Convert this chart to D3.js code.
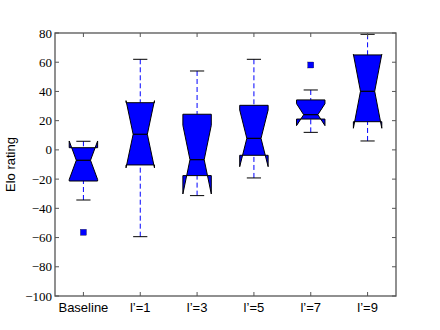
<!DOCTYPE html>
<html>
<head>
<meta charset="utf-8">
<title>Elo rating boxplot</title>
<script src="https://cdn.jsdelivr.net/npm/d3@7"></script>
<style>
  body { margin: 0; background: #fff; }
  svg { display: block; }
</style>
</head>
<body>
<svg id="chart"></svg>
<script>
// categories and box statistics
var categories = ["Baseline", "l\u2019=1", "l\u2019=3", "l\u2019=5", "l\u2019=7", "l\u2019=9"];
var whiskerLo = [-34.3, -59.4, -31.3, -19.2, 12.0, 6.1];
var q1 = [-21.3, -10.3, -17.6, -3.7, 21.1, 19.3];
var medians = [-7.1, 10.7, -6.7, 7.9, 24.1, 40.1];
var q3 = [1.5, 32.3, 24.4, 30.5, 34.2, 65.0];
var whiskerHi = [5.9, 62.0, 54.0, 62.0, 41.0, 79.1];
var notchHalf = [13.2, 23.0, 23.5, 19.4, 7.5, 25.3];
var outliers = [[-56.4], [], [], [], [58.1], []];
var yTicks = [-100, -80, -60, -40, -20, 0, 20, 40, 60, 80];

var w = 440, h = 330;
// plot area (don't use "top" - it clashes with window.top)
var padL = 55, padR = 396, padT = 33, padB = 296;

var svg = d3.select("#chart").attr("width", w).attr("height", h);

var x = d3.scaleLinear().domain([0.5, categories.length + 0.5]).range([padL, padR]);
var y = d3.scaleLinear().domain([-100, 80]).range([padB, padT]);

var boxW = x(1.25) - x(1);      // half of box width (width 0.5)
var capW = x(1.125) - x(1);     // half of cap / notch width

var stats = categories.map(function(c, i) {
    return {
        pos: i + 1, lo: whiskerLo[i], q1: q1[i], med: medians[i], q3: q3[i],
        hi: whiskerHi[i], nlo: medians[i] - notchHalf[i], nhi: medians[i] + notchHalf[i],
        out: outliers[i]
    };
});

var g = svg.append("g");

// whiskers, dashed blue
g.selectAll(".wlo").data(stats).enter().append("line")
    .attr("x1", function(d) { return x(d.pos); }).attr("x2", function(d) { return x(d.pos); })
    .attr("y1", function(d) { return y(d.lo); }).attr("y2", function(d) { return y(d.q1); })
    .attr("stroke", "#0000ff").attr("stroke-dasharray", "5,3").attr("stroke-width", 1);
g.selectAll(".whi").data(stats).enter().append("line")
    .attr("x1", function(d) { return x(d.pos); }).attr("x2", function(d) { return x(d.pos); })
    .attr("y1", function(d) { return y(d.hi); }).attr("y2", function(d) { return y(d.q3); })
    .attr("stroke", "#0000ff").attr("stroke-dasharray", "5,3").attr("stroke-width", 1);

// caps
["lo", "hi"].forEach(function(k) {
    g.selectAll(".cap" + k).data(stats).enter().append("line")
        .attr("x1", function(d) { return x(d.pos) - capW; })
        .attr("x2", function(d) { return x(d.pos) + capW; })
        .attr("y1", function(d) { return y(d[k]); }).attr("y2", function(d) { return y(d[k]); })
        .attr("stroke", "#000").attr("stroke-width", 1);
});

// notched boxes
g.selectAll(".box").data(stats).enter().append("path")
    .attr("d", function(d) {
        var c = x(d.pos);
        var pts = [
            [c - boxW, y(d.q1)], [c + boxW, y(d.q1)], [c + boxW, y(d.nlo)],
            [c + capW, y(d.med)], [c + boxW, y(d.nhi)], [c + boxW, y(d.q3)],
            [c - boxW, y(d.q3)], [c - boxW, y(d.nhi)], [c - capW, y(d.med)],
            [c - boxW, y(d.nlo)], [c - boxW, y(d.q1)]
        ];
        return d3.line()(pts) + "Z";
    })
    .attr("fill", "#0000ff").attr("stroke", "#000").attr("stroke-width", 1)
    .attr("stroke-linejoin", "miter");

// medians
g.selectAll(".med").data(stats).enter().append("line")
    .attr("x1", function(d) { return x(d.pos) - capW; })
    .attr("x2", function(d) { return x(d.pos) + capW; })
    .attr("y1", function(d) { return y(d.med); }).attr("y2", function(d) { return y(d.med); })
    .attr("stroke", "#000").attr("stroke-width", 1.2);

// fliers
var fl = [];
stats.forEach(function(d) { d.out.forEach(function(v) { fl.push({ pos: d.pos, v: v }); }); });
g.selectAll(".fl").data(fl).enter().append("rect")
    .attr("x", function(d) { return x(d.pos) - 3; })
    .attr("y", function(d) { return y(d.v) - 3; })
    .attr("width", 6).attr("height", 6)
    .attr("fill", "#0000ff").attr("stroke", "#000").attr("stroke-width", 0.3);

// frame
svg.append("rect")
    .attr("x", padL).attr("y", padT).attr("width", padR - padL).attr("height", padB - padT)
    .attr("fill", "none").attr("stroke", "#555").attr("stroke-width", 1.3);

// y ticks (inward, both sides)
yTicks.forEach(function(t) {
    svg.append("line").attr("x1", padL).attr("x2", padL + 4)
        .attr("y1", y(t)).attr("y2", y(t)).attr("stroke", "#555");
    svg.append("line").attr("x1", padR).attr("x2", padR - 4)
        .attr("y1", y(t)).attr("y2", y(t)).attr("stroke", "#555");
    svg.append("text").attr("x", padL - 3).attr("y", y(t) + 4.5)
        .attr("text-anchor", "end")
        .attr("font-family", "Liberation Serif, DejaVu Serif, serif")
        .attr("font-size", 13)
        .text(t < 0 ? "\u2212" + Math.abs(t) : t);
});

// x ticks
stats.forEach(function(d, i) {
    svg.append("line").attr("x1", x(d.pos)).attr("x2", x(d.pos))
        .attr("y1", padB).attr("y2", padB - 4).attr("stroke", "#555");
    svg.append("line").attr("x1", x(d.pos)).attr("x2", x(d.pos))
        .attr("y1", padT).attr("y2", padT + 4).attr("stroke", "#555");
    svg.append("text").attr("x", x(d.pos)).attr("y", padB + 16)
        .attr("text-anchor", "middle")
        .attr("font-family", "Liberation Sans, Arial, sans-serif")
        .attr("font-size", 13)
        .text(categories[i]);
});

// y label
svg.append("text")
    .attr("transform", "translate(15," + ((padT + padB) / 2) + ") rotate(-90)")
    .attr("text-anchor", "middle")
    .attr("font-family", "Liberation Sans, Arial, sans-serif")
    .attr("font-size", 13)
    .text("Elo rating");
</script>
</body>
</html>
